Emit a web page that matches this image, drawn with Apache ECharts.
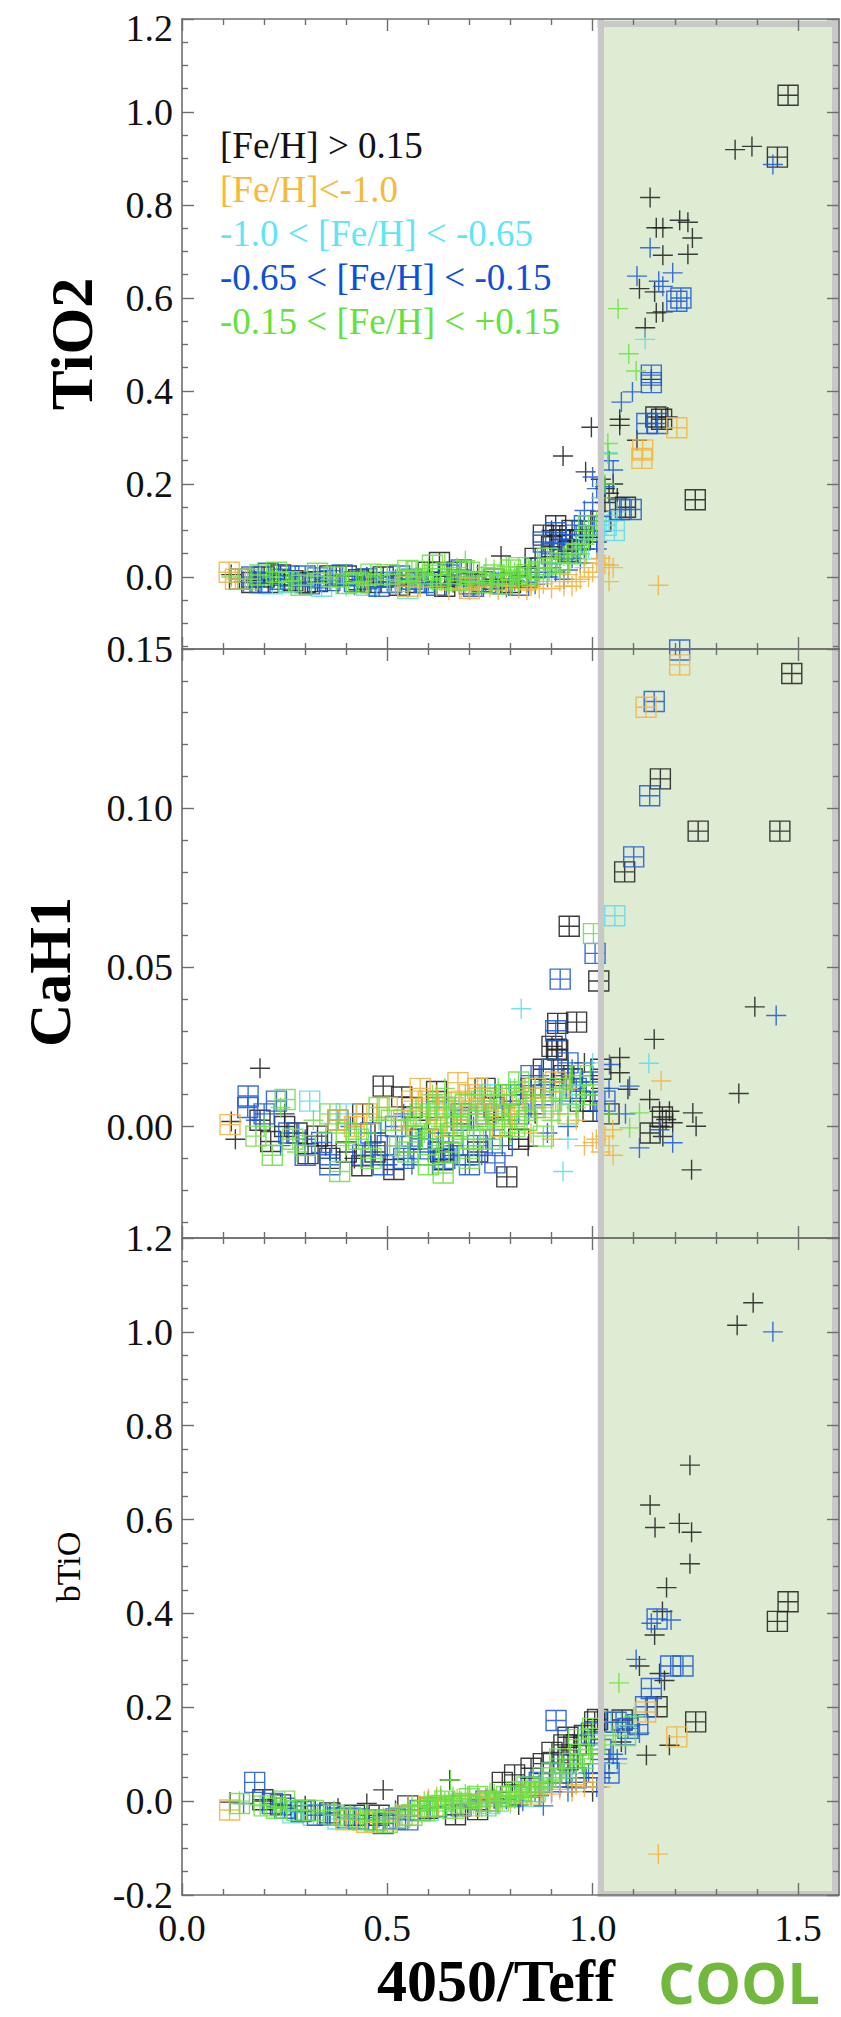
<!DOCTYPE html>
<html>
<head>
<meta charset="utf-8">
<script src="https://cdn.jsdelivr.net/npm/echarts@6/dist/echarts.min.js"></script>
<style>
html, body { margin: 0; padding: 0; background: #fff; }
#chart { width: 841px; height: 2017px; }
</style>
</head>
<body>
<div id="chart"></div>
<script>
// ---------- metallicity groups ----------
const GROUPS = ['[Fe/H] > 0.15', '[Fe/H]<-1.0', '-1.0 < [Fe/H] < -0.65', '-0.65 < [Fe/H] < -0.15', '-0.15 < [Fe/H] < +0.15'];
const GROUP_COLORS = ['#222222', '#f2b441', '#5fdcef', '#1f5bd6', '#6ee045'];
const LEGEND_COLORS = ['#111111', '#f6b93b', '#5fe6f4', '#0c4fdc', '#63e23c'];

// ---------- tick values ----------
const X_TICKS = [0, 0.5, 1.0, 1.5];
const X_MINOR = [0.1, 0.2, 0.3, 0.4, 0.6, 0.7, 0.8, 0.9, 1.1, 1.2, 1.3, 1.4];
const TIO2_TICKS = [0, 0.2, 0.4, 0.6, 0.8, 1.0, 1.2];
const TIO2_MINOR = [-0.15, -0.1, -0.05, 0.05, 0.1, 0.15, 0.25, 0.3, 0.35, 0.45, 0.5, 0.55, 0.65, 0.7, 0.75, 0.85, 0.9, 0.95, 1.05, 1.1, 1.15];
const CAH1_TICKS = [0, 0.05, 0.10, 0.15];
const CAH1_MINOR = [-0.03, -0.02, -0.01, 0.01, 0.02, 0.03, 0.04, 0.06, 0.07, 0.08, 0.09, 0.11, 0.12, 0.13, 0.14];
const BTIO_TICKS = [-0.2, 0, 0.2, 0.4, 0.6, 0.8, 1.0, 1.2];
const BTIO_MINOR = [-0.15, -0.1, -0.05, 0.05, 0.1, 0.15, 0.25, 0.3, 0.35, 0.45, 0.5, 0.55, 0.65, 0.7, 0.75, 0.85, 0.9, 0.95, 1.05, 1.1, 1.15];

// ---------- TiO2 index vs 4050/Teff ----------
const TIO2_BLACK_BOX = [[0.14,-0.005],[0.17,-0.012],[0.20,0.0],[0.21,-0.012],[0.24,0.004],[0.27,-0.008],[0.30,-0.012],[0.33,-0.01],[0.36,0.002],[0.40,0.002],[0.43,-0.006],[0.46,-0.012],[0.49,0.0],[0.53,-0.018],[0.57,-0.012],[0.60,0.01],[0.627,0.031],[0.64,-0.02],[0.67,0.01],[0.70,-0.015],[0.73,-0.01],[0.76,-0.005],[0.80,-0.012],[0.84,0.0],[0.86,0.04],[0.88,0.09],[0.90,0.065],[0.91,0.11],[0.92,0.08],[0.94,0.055],[0.95,0.10],[0.97,0.08],[1.02,0.12],[1.08,0.15],[1.154,0.344],[1.168,0.339],[1.250,0.166],[1.450,0.903],[1.476,1.036]];
const TIO2_BLACK_PLUS = [[1.347,0.919],[1.388,0.926],[1.140,0.816],[1.155,0.751],[1.171,0.751],[1.212,0.767],[1.232,0.763],[1.243,0.729],[1.232,0.694],[1.171,0.692],[1.114,0.620],[1.151,0.613],[1.155,0.568],[1.171,0.570],[1.128,0.536],[1.143,0.425],[1.066,0.326],[1.066,0.339],[0.997,0.322],[1.183,0.344],[1.108,0.294],[0.928,0.260],[0.983,0.226],[1.02,0.21],[1.03,0.19],[1.04,0.18],[1.05,0.20],[1.06,0.17],[1.03,0.16],[1.00,0.12],[0.97,0.10],[0.99,0.085],[1.01,0.075],[0.95,0.07],[0.92,0.09],[0.90,0.10],[0.93,0.05],[0.12,0.005],[0.18,-0.008],[0.25,-0.01],[0.35,-0.006],[0.45,0.0],[0.52,-0.015],[0.58,-0.01],[0.66,-0.012],[0.72,0.005],[0.777,0.045],[0.80,-0.005],[0.85,0.02]];
const TIO2_ORANGE_BOX = [[0.115,0.01],[0.13,-0.005],[0.55,-0.02],[0.70,-0.025],[1.122,0.273],[1.12,0.255],[1.205,0.321]];
const TIO2_ORANGE_PLUS = [[1.160,-0.018],[1.03,0.027],[1.05,0.02],[1.0,0.01],[0.97,-0.005],[0.95,-0.02],[0.92,-0.01],[0.90,-0.025],[0.88,-0.015],[0.85,-0.02],[0.82,-0.025],[0.79,-0.018],[0.75,-0.022],[0.72,-0.02],[0.68,-0.025],[0.62,-0.02],[0.58,-0.022],[0.52,-0.015],[0.45,-0.018],[0.98,0.02],[1.02,0.04],[1.04,-0.01],[0.94,0.005],[0.65,-0.028],[0.70,-0.028],[0.77,-0.028],[0.80,-0.02],[0.84,-0.028],[0.87,-0.025],[0.93,-0.02],[0.96,-0.01],[0.99,0.0],[1.01,0.03],[1.04,0.025]];
const TIO2_CYAN_BOX = [[0.22,-0.015],[0.26,-0.012],[0.34,-0.02],[0.45,-0.018],[0.55,-0.025],[0.99,0.06],[1.033,0.111],[1.053,0.100]];
const TIO2_CYAN_PLUS = [[1.128,0.511],[1.037,0.267],[0.40,-0.02],[0.60,-0.015],[0.70,-0.02],[0.85,-0.01],[0.90,0.0],[0.98,0.03],[1.04,0.12],[1.06,0.14]];
const TIO2_BLUE_BOX = [[0.17,0.0],[0.19,-0.012],[0.21,0.008],[0.24,-0.005],[0.26,0.002],[0.30,0.002],[0.31,-0.015],[0.33,-0.002],[0.36,-0.008],[0.39,0.004],[0.42,-0.01],[0.45,-0.004],[0.48,-0.02],[0.51,-0.012],[0.53,0.002],[0.56,-0.005],[0.59,-0.012],[0.62,-0.018],[0.65,0.004],[0.68,0.015],[0.71,-0.02],[0.74,-0.012],[0.78,-0.015],[0.82,-0.018],[0.86,0.02],[0.88,0.075],[0.90,0.05],[0.91,0.095],[0.93,0.06],[0.95,0.07],[0.96,0.09],[0.98,0.11],[1.066,0.145],[1.094,0.145],[1.132,0.330],[1.158,0.330],[1.143,0.434],[1.143,0.418],[1.205,0.593],[1.215,0.600]];
const TIO2_BLUE_PLUS = [[1.439,0.887],[1.140,0.708],[1.108,0.647],[1.195,0.654],[1.161,0.636],[1.171,0.625],[1.097,0.398],[1.070,0.376],[1.03,0.194],[1.0,0.215],[0.98,0.143],[1.04,0.25],[1.05,0.23],[0.97,0.12],[0.99,0.09],[1.01,0.06],[0.95,0.04],[0.15,-0.01],[0.22,-0.005],[0.28,-0.012],[0.38,-0.015],[0.42,-0.018],[0.44,-0.005],[0.47,-0.022],[0.50,-0.01],[0.52,-0.005],[0.55,-0.02],[0.57,-0.012],[0.60,-0.008],[0.62,-0.022],[0.65,-0.015],[0.67,-0.008],[0.70,-0.005],[0.71,-0.02],[0.73,-0.018],[0.75,-0.014],[0.77,-0.01],[0.79,-0.022],[0.81,-0.008],[0.82,0.0],[0.84,-0.012],[0.86,-0.016],[0.87,0.01],[0.89,0.0],[0.90,0.02],[0.91,0.01],[0.92,0.03],[0.93,-0.005],[0.94,0.015],[0.96,0.05],[0.97,0.03],[0.98,0.06],[1.0,0.1],[1.02,0.13],[1.0,0.16],[1.01,0.19]];
const TIO2_GREEN_BOX = [[0.16,-0.005],[0.19,0.004],[0.23,0.01],[0.26,-0.01],[0.29,-0.018],[0.33,0.008],[0.37,0.0],[0.40,-0.014],[0.43,-0.012],[0.46,0.006],[0.50,0.005],[0.53,-0.01],[0.55,0.014],[0.57,0.012],[0.61,0.025],[0.63,-0.004],[0.67,-0.008],[0.70,0.01],[0.73,-0.012],[0.76,0.004],[0.78,-0.015],[0.80,0.015],[0.82,0.02],[0.84,0.005],[0.87,0.012],[0.89,0.04],[0.92,0.03],[0.96,0.05],[0.99,0.11]];
const TIO2_GREEN_PLUS = [[1.062,0.577],[1.088,0.480],[1.106,0.443],[1.037,0.287],[1.037,0.265],[1.02,0.17],[1.0,0.09],[0.98,0.07],[0.12,0.0],[0.17,-0.01],[0.22,0.0],[0.27,-0.008],[0.32,0.002],[0.36,-0.006],[0.40,0.004],[0.44,-0.01],[0.47,0.0],[0.50,-0.006],[0.53,0.006],[0.55,-0.012],[0.56,0.015],[0.57,0.0],[0.58,-0.015],[0.59,0.008],[0.60,0.018],[0.61,-0.008],[0.62,-0.014],[0.63,0.004],[0.65,-0.014],[0.66,0.01],[0.67,0.02],[0.68,0.0],[0.69,-0.016],[0.70,-0.01],[0.71,0.012],[0.72,-0.015],[0.73,0.002],[0.74,0.02],[0.75,-0.008],[0.76,0.016],[0.77,-0.014],[0.78,0.004],[0.79,0.022],[0.80,-0.006],[0.81,0.01],[0.82,-0.012],[0.83,0.0],[0.84,0.02],[0.85,0.012],[0.86,-0.004],[0.87,0.03],[0.88,0.02],[0.89,0.005],[0.90,0.04],[0.91,0.03],[0.92,0.015],[0.93,0.045],[0.94,0.03],[0.95,0.06],[0.96,0.07],[0.97,0.05],[0.98,0.10],[0.99,0.08],[1.01,0.12],[1.03,0.2],[0.64,0.03],[0.69,0.035]];

// ---------- CaH1 index vs 4050/Teff ----------
const CAH1_BLACK_BOX = [[0.19,0.002],[0.216,-0.0047],[0.25,0.0],[0.28,-0.002],[0.307,-0.0085],[0.33,-0.003],[0.36,-0.01],[0.40,-0.008],[0.438,-0.0123],[0.44,0.004],[0.47,-0.008],[0.490,0.0127],[0.516,-0.0135],[0.535,0.0093],[0.56,0.006],[0.58,-0.004],[0.620,0.0110],[0.63,-0.008],[0.636,-0.0104],[0.68,0.004],[0.72,-0.008],[0.738,0.0120],[0.76,0.006],[0.791,-0.0158],[0.82,-0.004],[0.85,0.012],[0.88,0.018],[0.901,0.0252],[0.912,0.0243],[0.915,0.0324],[0.915,0.0240],[0.93,0.016],[0.943,0.0629],[0.95,0.015],[0.961,0.0328],[0.97,0.008],[1.001,0.0048],[1.015,0.0457],[1.02,0.018],[1.04,0.004],[1.078,0.0800],[1.14,-0.002],[1.165,0.1092],[1.17,0.003],[1.257,0.0928],[1.456,0.0928],[1.485,0.1423]];
const CAH1_BLACK_PLUS = [[0.190,0.0183],[1.150,0.0274],[1.356,0.0104],[1.241,-0.0136],[1.395,0.0376],[1.139,0.0085],[1.163,0.0048],[1.187,0.0048],[1.179,0.0022],[1.163,0.0001],[1.195,0.0012],[1.244,0.0043],[1.252,0.0001],[1.171,-0.0031],[1.066,0.0217],[1.066,0.0169],[1.086,0.0117],[0.843,-0.0062],[0.12,0.0016],[0.13,-0.004],[0.25,0.004],[0.35,-0.006],[0.42,-0.010],[0.47,-0.002],[0.55,-0.008],[0.60,0.002],[0.66,-0.006],[0.70,0.006],[0.76,0.002],[0.80,0.008],[0.86,0.004],[0.90,0.014],[0.94,0.018],[0.98,0.020],[1.02,0.012],[1.00,0.016]];
const CAH1_ORANGE_BOX = [[0.117,0.0006],[0.38,0.002],[0.42,0.0],[0.45,0.004],[0.50,0.006],[0.54,0.002],[0.56,0.008],[0.58,0.012],[0.60,0.008],[0.62,0.002],[0.64,0.0],[0.66,0.006],[0.672,0.0138],[0.68,0.008],[0.70,0.010],[0.72,0.012],[0.74,0.004],[0.76,0.008],[0.78,0.000],[0.81,0.004],[0.83,0.008],[0.86,0.012],[0.88,0.006],[0.91,0.014],[1.130,0.1317],[1.212,0.1450]];
const CAH1_ORANGE_PLUS = [[1.167,0.0143],[1.049,-0.001],[1.03,-0.003],[1.04,-0.006],[1.009,-0.004],[1.00,-0.005],[0.98,-0.006],[1.02,-0.008],[1.05,-0.009],[0.55,0.000],[0.60,0.004],[0.62,0.010],[0.64,0.008],[0.66,0.000],[0.68,0.002],[0.70,0.004],[0.71,0.008],[0.73,0.012],[0.75,0.006],[0.78,0.010],[0.80,0.004],[0.83,0.012],[0.85,-0.002],[0.88,0.008],[0.90,-0.004],[0.92,0.004],[0.94,0.012],[0.96,0.002]];
const CAH1_CYAN_BOX = [[0.311,0.0080],[0.40,0.004],[0.65,0.006],[0.75,0.010],[0.86,0.012],[0.95,0.010],[1.054,0.0662]];
const CAH1_CYAN_PLUS = [[0.826,0.0370],[1.137,0.0199],[0.928,-0.0141],[0.94,-0.004],[0.70,0.004],[0.55,-0.010],[0.80,0.012],[0.90,0.004],[1.00,0.020]];
const CAH1_BLUE_BOX = [[0.161,0.0096],[0.16,0.006],[0.20,0.004],[0.23,0.008],[0.26,-0.002],[0.30,-0.009],[0.34,-0.005],[0.36,-0.012],[0.38,0.002],[0.44,-0.009],[0.46,-0.002],[0.49,-0.012],[0.50,-0.006],[0.52,0.000],[0.54,-0.010],[0.56,-0.003],[0.58,-0.007],[0.60,-0.004],[0.62,0.006],[0.64,-0.010],[0.66,-0.006],[0.68,0.002],[0.70,-0.012],[0.72,-0.006],[0.74,0.004],[0.762,-0.0114],[0.78,-0.006],[0.80,0.010],[0.82,0.004],[0.85,0.016],[0.88,0.010],[0.90,0.018],[0.910,0.0301],[0.921,0.0463],[0.94,0.020],[0.96,0.012],[1.00,0.014],[1.006,0.0544],[1.03,0.008],[1.100,0.0847],[1.139,0.1039],[1.150,0.1335],[1.212,0.1497]];
const CAH1_BLUE_PLUS = [[1.447,0.0349],[1.114,-0.0067],[1.195,-0.0051],[1.163,-0.0010],[1.041,0.0195],[1.090,0.0127],[0.18,0.002],[0.24,-0.006],[0.30,-0.004],[0.36,-0.010],[0.41,0.000],[0.46,-0.006],[0.50,-0.012],[0.54,0.004],[0.56,-0.012],[0.58,-0.004],[0.60,-0.008],[0.61,-0.012],[0.63,-0.002],[0.65,-0.005],[0.67,-0.009],[0.69,-0.012],[0.71,0.000],[0.73,-0.009],[0.74,-0.004],[0.76,-0.001],[0.78,0.006],[0.80,0.002],[0.83,0.010],[0.85,0.006],[0.87,0.016],[0.89,-0.002],[0.90,0.012],[0.92,0.008],[0.94,0.000],[0.95,0.018],[0.97,0.014],[1.00,0.010],[1.01,0.005],[1.04,0.012],[1.08,0.004]];
const CAH1_GREEN_BOX = [[0.18,-0.003],[0.22,-0.009],[0.251,0.0085],[0.27,-0.004],[0.30,-0.006],[0.36,0.004],[0.384,-0.0141],[0.40,-0.002],[0.43,-0.004],[0.46,-0.010],[0.48,0.006],[0.51,0.002],[0.53,-0.006],[0.55,-0.008],[0.57,0.000],[0.58,0.004],[0.60,-0.012],[0.61,-0.004],[0.62,0.004],[0.636,-0.0146],[0.64,0.006],[0.65,-0.008],[0.66,-0.002],[0.67,0.000],[0.69,0.007],[0.70,-0.010],[0.71,-0.004],[0.72,0.002],[0.73,0.008],[0.75,-0.004],[0.77,0.004],[0.79,0.010],[0.81,0.000],[0.82,0.014],[0.84,0.002],[0.86,0.006],[0.88,-0.003],[0.90,0.008],[0.92,0.012],[0.94,0.004],[0.97,0.016],[1.00,0.010],[1.002,0.0606]];
const CAH1_GREEN_PLUS = [[1.114,0.0043],[1.090,-0.0004],[0.20,0.000],[0.24,0.006],[0.28,-0.008],[0.32,0.002],[0.35,-0.002],[0.40,-0.006],[0.45,-0.002],[0.48,0.002],[0.52,-0.006],[0.55,0.002],[0.57,0.006],[0.58,-0.004],[0.59,-0.002],[0.60,0.006],[0.61,0.010],[0.62,-0.006],[0.63,0.000],[0.64,0.012],[0.65,0.008],[0.66,0.004],[0.67,0.003],[0.68,-0.004],[0.69,0.010],[0.70,0.000],[0.71,-0.006],[0.72,0.006],[0.73,0.010],[0.74,0.003],[0.75,0.000],[0.76,0.008],[0.77,0.012],[0.78,0.002],[0.79,0.006],[0.80,-0.002],[0.81,0.012],[0.82,0.006],[0.84,0.008],[0.86,0.010],[0.88,0.014],[0.90,0.002],[0.91,0.008],[0.93,0.012],[0.95,0.016],[0.96,0.006],[0.98,0.010],[1.04,0.004]];

// ---------- bTiO index vs 4050/Teff ----------
const BTIO_BLACK_BOX = [[0.197,0.003],[0.24,-0.008],[0.30,-0.02],[0.36,-0.025],[0.42,-0.03],[0.48,-0.03],[0.55,-0.01],[0.60,-0.015],[0.666,-0.029],[0.72,-0.018],[0.78,0.04],[0.81,0.056],[0.85,0.07],[0.88,0.08],[0.92,0.06],[0.901,0.104],[0.93,0.12],[0.94,0.136],[0.96,0.12],[0.94,0.088],[0.98,0.14],[1.005,0.169],[1.012,0.174],[1.072,0.173],[1.157,0.201],[1.251,0.169],[1.450,0.383],[1.476,0.425]];
const BTIO_BLACK_PLUS = [[1.391,1.062],[1.352,1.014],[1.237,0.716],[1.140,0.631],[1.152,0.583],[1.211,0.592],[1.241,0.573],[1.237,0.506],[1.180,0.455],[1.170,0.404],[1.151,0.354],[1.114,0.288],[1.163,0.272],[1.175,0.257],[1.187,0.119],[1.131,0.098],[1.070,0.126],[0.117,-0.002],[0.490,0.024],[0.652,0.045],[0.30,-0.01],[0.38,-0.015],[0.45,-0.005],[0.52,-0.02],[0.60,0.0],[0.70,-0.005],[0.76,0.005],[0.82,-0.008],[0.86,0.02],[0.90,0.04],[0.95,0.03],[0.98,0.05],[1.0,0.02],[1.02,0.06],[1.04,0.09],[0.20,0.0],[0.25,-0.01]];
const BTIO_ORANGE_BOX = [[0.116,-0.019],[0.40,-0.04],[0.45,-0.045],[0.50,-0.04],[0.55,-0.03],[0.60,-0.012],[0.70,-0.01],[0.75,0.0],[0.85,0.015],[1.129,0.190],[1.205,0.137]];
const BTIO_ORANGE_PLUS = [[1.160,-0.113],[0.55,-0.01],[0.60,0.005],[0.62,0.01],[0.65,0.0],[0.67,0.005],[0.70,0.01],[0.72,0.015],[0.75,0.005],[0.78,0.012],[0.80,0.0],[0.82,0.015],[0.85,0.01],[0.88,0.02],[0.90,0.015],[0.92,0.025],[0.95,0.02],[0.96,0.035],[0.98,0.03],[1.0,0.04],[1.02,0.03]];
const BTIO_CYAN_BOX = [[0.27,-0.025],[0.32,-0.03],[0.38,-0.038],[0.60,-0.02],[0.75,-0.005],[0.85,0.01],[0.99,0.12],[1.045,0.169]];
const BTIO_CYAN_PLUS = [[0.45,-0.04],[0.62,0.0],[0.70,-0.012],[0.80,-0.005],[0.88,0.03],[0.95,0.05],[1.06,0.08]];
const BTIO_BLUE_BOX = [[0.177,0.040],[0.22,-0.005],[0.25,-0.015],[0.29,-0.022],[0.33,-0.03],[0.36,-0.03],[0.40,-0.035],[0.43,-0.038],[0.47,-0.04],[0.49,-0.048],[0.52,-0.038],[0.55,-0.04],[0.58,-0.02],[0.62,-0.012],[0.68,-0.01],[0.74,0.0],[0.80,0.01],[0.85,0.03],[0.87,0.04],[0.90,0.06],[0.93,0.08],[0.96,0.05],[1.0,0.08],[1.02,0.11],[1.04,0.06],[0.911,0.172],[0.997,0.145],[1.057,0.168],[1.086,0.155],[1.110,0.163],[1.129,0.201],[1.143,0.240],[1.19,0.288],[1.22,0.288],[1.157,0.388]];
const BTIO_BLUE_PLUS = [[1.439,1.000],[1.191,0.386],[1.143,0.379],[1.106,0.302],[1.114,0.145],[1.05,0.1],[1.03,0.06],[1.08,0.12],[1.06,0.09],[1.09,0.16],[0.15,-0.005],[0.23,-0.012],[0.28,-0.02],[0.35,-0.025],[0.42,-0.03],[0.48,-0.035],[0.53,-0.03],[0.58,-0.01],[0.60,-0.015],[0.63,0.005],[0.66,0.0],[0.68,-0.008],[0.70,-0.012],[0.72,0.0],[0.74,0.005],[0.77,-0.004],[0.79,0.004],[0.81,0.01],[0.83,0.0],[0.85,0.02],[0.87,0.012],[0.88,-0.01],[0.90,0.02],[0.92,0.03],[0.94,0.02],[0.96,0.04],[0.98,0.04],[0.99,0.06],[1.01,0.03],[1.02,0.05]];
const BTIO_GREEN_BOX = [[0.14,-0.005],[0.20,-0.01],[0.23,-0.015],[0.25,0.0],[0.28,-0.02],[0.32,-0.02],[0.37,-0.03],[0.41,-0.035],[0.44,-0.04],[0.47,-0.042],[0.50,-0.045],[0.53,-0.035],[0.56,-0.03],[0.59,-0.02],[0.62,-0.01],[0.64,0.0],[0.66,-0.015],[0.68,-0.005],[0.70,0.005],[0.72,0.01],[0.74,-0.01],[0.77,0.0],[0.79,0.01],[0.82,0.02],[0.84,0.03],[0.86,0.02],[0.88,0.05],[0.90,0.06],[0.92,0.09],[0.95,0.08],[0.966,0.131],[0.97,0.1],[1.0,0.155],[1.08,0.14]];
const BTIO_GREEN_PLUS = [[1.064,0.252],[0.654,0.045],[1.10,0.18],[0.14,0.0],[0.19,-0.008],[0.24,-0.012],[0.29,-0.018],[0.33,-0.025],[0.37,-0.02],[0.41,-0.03],[0.45,-0.028],[0.49,-0.035],[0.52,-0.025],[0.55,-0.02],[0.56,-0.008],[0.58,-0.012],[0.59,0.0],[0.60,-0.005],[0.61,-0.015],[0.62,0.005],[0.63,0.012],[0.64,-0.008],[0.65,0.0],[0.66,0.01],[0.67,-0.015],[0.68,0.0],[0.69,0.015],[0.70,0.012],[0.71,-0.006],[0.72,-0.004],[0.73,-0.012],[0.74,0.008],[0.75,0.018],[0.76,0.015],[0.77,-0.005],[0.78,0.002],[0.79,0.02],[0.80,0.012],[0.81,0.005],[0.82,0.02],[0.83,0.025],[0.84,0.01],[0.85,0.02],[0.86,0.03],[0.87,0.04],[0.88,0.025],[0.89,0.03],[0.90,0.045],[0.91,0.05],[0.92,0.06],[0.93,0.07],[0.94,0.05],[0.96,0.08],[0.97,0.09],[0.98,0.07],[0.99,0.11],[1.0,0.1],[1.02,0.08],[1.03,0.12],[1.05,0.14]];

// per panel, per group (in GROUPS order): [boxes, pluses]
const PANEL_DATA = [
  [[TIO2_BLACK_BOX, TIO2_BLACK_PLUS], [TIO2_ORANGE_BOX, TIO2_ORANGE_PLUS], [TIO2_CYAN_BOX, TIO2_CYAN_PLUS], [TIO2_BLUE_BOX, TIO2_BLUE_PLUS], [TIO2_GREEN_BOX, TIO2_GREEN_PLUS]],
  [[CAH1_BLACK_BOX, CAH1_BLACK_PLUS], [CAH1_ORANGE_BOX, CAH1_ORANGE_PLUS], [CAH1_CYAN_BOX, CAH1_CYAN_PLUS], [CAH1_BLUE_BOX, CAH1_BLUE_PLUS], [CAH1_GREEN_BOX, CAH1_GREEN_PLUS]],
  [[BTIO_BLACK_BOX, BTIO_BLACK_PLUS], [BTIO_ORANGE_BOX, BTIO_ORANGE_PLUS], [BTIO_CYAN_BOX, BTIO_CYAN_PLUS], [BTIO_BLUE_BOX, BTIO_BLUE_PLUS], [BTIO_GREEN_BOX, BTIO_GREEN_PLUS]]
];
// drawing order of the groups (last on top)
const DRAW_ORDER = [0, 2, 3, 1, 4];

// ---------- layout ----------
const PLOT_LEFT = 182, PLOT_WIDTH = 657;
const PANELS = [
  { top: 19,   height: 630, min: -0.155, max: 1.2,  ticks: TIO2_TICKS, minor: TIO2_MINOR, digits: 1, coolTop: 1.19, dropMaxLabel: true },
  { top: 649,  height: 589, min: -0.035, max: 0.15, ticks: CAH1_TICKS, minor: CAH1_MINOR, digits: 2 },
  { top: 1238, height: 657, min: -0.2,   max: 1.2,  ticks: BTIO_TICKS, minor: BTIO_MINOR, digits: 1, coolBottom: -0.197 }
];
const X_MIN = 0, X_MAX = 1.6;
const COOL_FROM = 1.012, COOL_EDGE = 1.016, COOL_RIGHT = 1.586;

const AXIS_COLOR = '#6e6e6e';
const SERIF = 'Liberation Serif, Times New Roman, serif';
const BOX = 'path://M0,0L20,0L20,20L0,20Z M10,0L10,20 M0,10L20,10';
const PLUS = 'path://M10,0L10,20 M0,10L20,10';

const grid = [], xAxis = [], yAxis = [], series = [];

// main grids (0..2) carry the data; overlay grids (3..5) carry minor ticks
PANELS.forEach(p => grid.push({ left: PLOT_LEFT, top: p.top, width: PLOT_WIDTH, height: p.height }));
PANELS.forEach(p => grid.push({ left: PLOT_LEFT, top: p.top, width: PLOT_WIDTH, height: p.height }));

function valueAxis(gridIndex, position, min, max, tickValues, tickLen, showLine, labelValues, digits, dropMaxLabel) {
  return {
    type: 'value', gridIndex, position, min, max, z: 5,
    splitLine: { show: false },
    axisLine: { show: showLine, onZero: false, lineStyle: { color: AXIS_COLOR, width: 1.6 } },
    axisTick: { show: true, inside: true, length: tickLen, customValues: tickValues, lineStyle: { color: AXIS_COLOR, width: 1.4 } },
    axisLabel: labelValues ? {
      show: true, customValues: labelValues, margin: position === 'left' ? 9 : 14,
      fontFamily: SERIF, fontSize: 38, color: '#111',
      formatter: v => (dropMaxLabel && v === max) ? '{low|' + Number(v).toFixed(digits) + '}' : Number(v).toFixed(digits),
      rich: { low: { fontFamily: SERIF, fontSize: 38, color: '#111', padding: [18, 0, 0, 0] } }
    } : { show: false }
  };
}

// x axes: 0..2 bottom (main), 3..5 top (main), 6..11 minor (bottom/top)
PANELS.forEach((p, i) => xAxis.push(valueAxis(i, 'bottom', X_MIN, X_MAX, X_TICKS, 12, true, i === 2 ? X_TICKS : null, 1)));
PANELS.forEach((p, i) => xAxis.push(valueAxis(i, 'top', X_MIN, X_MAX, X_TICKS, 12, true, null, 1)));
PANELS.forEach((p, i) => {
  xAxis.push(valueAxis(i + 3, 'bottom', X_MIN, X_MAX, X_MINOR, 6, false, null, 1));
  xAxis.push(valueAxis(i + 3, 'top', X_MIN, X_MAX, X_MINOR, 6, false, null, 1));
});
// y axes: 0..2 left (main), 3..5 right (main), 6..11 minor (left/right)
PANELS.forEach((p, i) => yAxis.push(valueAxis(i, 'left', p.min, p.max, p.ticks, 12, true, p.ticks, p.digits, p.dropMaxLabel)));
PANELS.forEach((p, i) => yAxis.push(valueAxis(i, 'right', p.min, p.max, p.ticks, 12, true, null, p.digits)));
PANELS.forEach((p, i) => {
  yAxis.push(valueAxis(i + 3, 'left', p.min, p.max, p.minor, 6, false, null, p.digits));
  yAxis.push(valueAxis(i + 3, 'right', p.min, p.max, p.minor, 6, false, null, p.digits));
});

// shaded "cool" region with its grey frame
PANELS.forEach((p, i) => {
  const edge = { color: '#c8c8c8', width: 6, type: 'solid' };
  const lines = [
    { xAxis: COOL_EDGE, lineStyle: edge },
    { xAxis: COOL_RIGHT, lineStyle: edge }
  ];
  if (p.coolTop !== undefined) lines.push([{ coord: [COOL_FROM, p.coolTop], lineStyle: edge }, { coord: [X_MAX, p.coolTop] }]);
  if (p.coolBottom !== undefined) lines.push([{ coord: [COOL_FROM, p.coolBottom], lineStyle: edge }, { coord: [X_MAX, p.coolBottom] }]);
  series.push({
    type: 'scatter', xAxisIndex: i, yAxisIndex: i, data: [], silent: true, z: 1,
    markArea: { silent: true, label: { show: false }, itemStyle: { color: '#dfecd4', borderWidth: 0 }, data: [[{ xAxis: COOL_FROM }, { xAxis: X_MAX }]] },
    markLine: { silent: true, symbol: 'none', label: { show: false }, animation: false, data: lines }
  });
});

// data points: squares (with inner cross) and plus signs
PANEL_DATA.forEach((groups, i) => {
  DRAW_ORDER.forEach(g => {
    const [boxes, pluses] = groups[g];
    [[boxes, BOX], [pluses, PLUS]].forEach(([pts, sym]) => {
      series.push({
        type: 'scatter', name: GROUPS[g], xAxisIndex: i, yAxisIndex: i,
        data: pts, symbol: sym, symbolSize: 20, silent: true, z: 2,
        itemStyle: { color: 'rgba(0,0,0,0)', borderColor: GROUP_COLORS[g], borderWidth: 1.4, opacity: 0.88 },
        emphasis: { disabled: true }
      });
    });
  });
});

const chart = echarts.init(document.getElementById('chart'), null, { renderer: 'svg', width: 841, height: 2017 });
chart.setOption({
  animation: false,
  backgroundColor: '#ffffff',
  textStyle: { fontFamily: SERIF },
  grid, xAxis, yAxis, series,
  legend: {
    orient: 'vertical', left: 209, top: 118, itemWidth: 0, itemHeight: 0, itemGap: 0,
    selectedMode: false,
    textStyle: { fontFamily: SERIF, fontSize: 37, lineHeight: 44 },
    data: GROUPS.map((n, k) => ({ name: n, textStyle: { color: LEGEND_COLORS[k], fontFamily: SERIF, fontSize: 37 } }))
  },
  graphic: [
    { type: 'text', x: 72, y: 344, rotation: Math.PI / 2, style: { text: 'TiO2', fontFamily: SERIF, fontWeight: 'bold', fontSize: 60, fill: '#000', align: 'center', verticalAlign: 'middle' } },
    { type: 'text', x: 50, y: 972, rotation: Math.PI / 2, style: { text: 'CaH1', fontFamily: SERIF, fontWeight: 'bold', fontSize: 60, fill: '#000', align: 'center', verticalAlign: 'middle' } },
    { type: 'text', x: 68, y: 1567, rotation: Math.PI / 2, style: { text: 'bTiO', fontFamily: SERIF, fontSize: 34, fill: '#000', align: 'center', verticalAlign: 'middle' } },
    { type: 'text', x: 496, y: 1981, style: { text: '4050/Teff', fontFamily: SERIF, fontWeight: 'bold', fontSize: 60, fill: '#000', align: 'center', verticalAlign: 'middle' } },
    { type: 'text', x: 739, y: 1981, style: { text: 'COOL', fontFamily: 'Open Sans, sans-serif', fontWeight: 'bold', fontSize: 58, fill: '#72b83c', align: 'center', verticalAlign: 'middle' } }
  ]
});
</script>
</body>
</html>
